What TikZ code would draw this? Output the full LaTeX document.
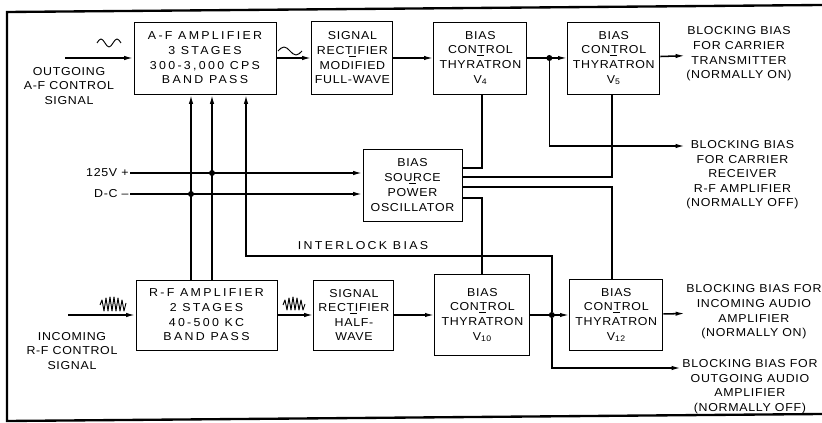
\documentclass[tikz,border=0pt]{standalone}
\usepackage{fontspec}
\setmainfont{Liberation Sans}[FakeStretch=1.08, LetterSpace=6]
\usetikzlibrary{arrows.meta, positioning, calc}

\newcommand\blkfont{\fontsize{9.8}{12.5}\selectfont}
\newcommand\widefont{\blkfont\addfontfeature{LetterSpace=20}}
% short separator bar under a word
\newcommand\sepunder[1]{\leavevmode\setbox0\hbox{#1}\rlap{\hbox to \wd0{\hss\rule[-2pt]{6pt}{0.6pt}\hss}}\box0}

\begin{document}
\begin{tikzpicture}[
    x=0.3mm, y=-0.3mm,
    blk/.style={draw=black, line width=0.8pt, align=center, font=\blkfont, inner sep=0pt},
    txt/.style={align=center, font=\blkfont, inner sep=1pt},
    arr/.style={-{Latex[length=2.8mm, width=1.3mm]}, line width=1.3pt},
    wire/.style={line width=1.3pt},
    junc/.style={circle, fill=black, inner sep=0pt, minimum size=1.8mm},
    wave/.style={line width=0.8pt, line join=round},
    edgeline/.style={line width=2pt},
]
\useasboundingbox (0,0) rectangle (822,423);

% Outer frame
\draw[edgeline] (822,5) -- (7,12) -- (7,421) -- (822,414);

% Top row
\node[blk, font=\widefont, minimum width=42.6mm, minimum height=21.6mm] (af) at (205,58)
    {A-F AMPLIFIER\\3 STAGES\\300-3,000 CPS\\BAND PASS};
\node[blk, minimum width=24.3mm, minimum height=21.9mm, right=10.5mm of af] (rectA)
    {SIGNAL\\\sepunder{RECTIFIER}\\MODIFIED\\FULL-WAVE};
\node[blk, minimum width=27.9mm, minimum height=21.6mm, right=12mm of rectA] (v4)
    {BIAS\\\sepunder{CONTROL}\\THYRATRON\\V\textsubscript{4}};
\node[blk, minimum width=27.6mm, minimum height=21.6mm, right=12mm of v4] (v5)
    {BIAS\\\sepunder{CONTROL}\\THYRATRON\\V\textsubscript{5}};

% Bias source
\node[blk, minimum width=29.7mm, minimum height=21.6mm] (bias) at (412.5,185)
    {BIAS\\\sepunder{SOURCE}\\[1pt]POWER\\OSCILLATOR};

% Bottom row
\node[blk, font=\widefont, minimum width=42.3mm, minimum height=21mm] (rf) at (206.5,315)
    {R-F AMPLIFIER\\2 STAGES\\40-500 KC\\BAND PASS};
\node[blk, minimum width=24mm, minimum height=21mm, right=10.8mm of rf] (rectB)
    {SIGNAL\\\sepunder{RECTIFIER}\\HALF-\\WAVE};
\node[blk, minimum width=28.5mm, minimum height=24.3mm, right=12mm of rectB] (v10)
    {BIAS\\\sepunder{CONTROL}\\THYRATRON\\V\textsubscript{10}};
\node[blk, minimum width=27.9mm, minimum height=21.3mm, right=11.7mm of v10] (v12)
    {BIAS\\\sepunder{CONTROL}\\THYRATRON\\V\textsubscript{12}};

% Inputs and supply
\node[txt] (in1) at (69,86) {OUTGOING\\A-F CONTROL\\SIGNAL};
\node[txt] (in2) at (72,351) {INCOMING\\R-F CONTROL\\SIGNAL};
\node[txt, anchor=east] (vplus) at (130,173) {125V +};
\node[txt, anchor=east] (vminus) at (130,194) {D-C --};
\coordinate (src1) at (65,58);
\coordinate (src2) at (68,315);

% Outputs
\node[txt, anchor=west] (out1) at (685,54)
    {BLOCKING BIAS\\FOR CARRIER\\TRANSMITTER\\(NORMALLY ON)};
\node[txt, anchor=north west] (out2) at (685,139)
    {BLOCKING BIAS\\FOR CARRIER\\RECEIVER\\R-F AMPLIFIER\\(NORMALLY OFF)};
\node[txt, anchor=west] (out3) at (685,312)
    {BLOCKING BIAS FOR\\INCOMING AUDIO\\AMPLIFIER\\(NORMALLY ON)};
\node[txt, anchor=north west] (out4) at (681,358)
    {BLOCKING BIAS FOR\\OUTGOING AUDIO\\AMPLIFIER\\(NORMALLY OFF)};
\coordinate (p2) at (685,146);
\coordinate (p4) at (681,368);

% Columns and rows for the wiring
\coordinate (tapA) at (191,0);
\coordinate (tapB) at (212,0);
\coordinate (tapC) at (246,0);
\coordinate (colL) at (482,0);
\coordinate (colR) at (612,0);
\coordinate (ilkrow) at (0,256);

% Junctions
\node[junc] (j4) at ($(v4.east)!0.55!(v5.west)$) {};
\node[junc] (j10) at ($(v10.east)!0.55!(v12.west)$) {};
\node[junc] (jp) at (vplus -| tapB) {};
\node[junc] (jm) at (vminus -| tapA) {};

% Signal chain, top
\draw[arr] (src1) -- (af);
\draw[arr] (af) -- (rectA);
\draw[arr] (rectA) -- (v4);
\draw[arr] (v4) -- (v5);
\draw[arr] (v5) -- (out1);
\draw[arr] (j4) |- (p2);

% Signal chain, bottom
\draw[arr] (src2) -- (rf);
\draw[arr] (rf) -- (rectB);
\draw[arr] (rectB) -- (v10);
\draw[arr] (v10) -- (v12);
\draw[arr] (v12) -- (out3);
\draw[arr] (j10) |- (p4);

% D-C supply
\draw[arr] (vplus.east) -- (vplus.east -| bias.west);
\draw[arr] (vminus.east) -- (vminus.east -| bias.west);
\draw[arr] (rf.north -| tapA) -- (af.south -| tapA);
\draw[arr] (rf.north -| tapB) -- (af.south -| tapB);

% Bias source to thyratrons
\draw[wire] ([yshift=5.1mm]bias.east) -| (v4.south -| colL);
\draw[wire] ([yshift=2.4mm]bias.east) -| (v5.south -| colR);
\draw[wire] ([yshift=-0.6mm]bias.east) -| (v12.north -| colR);
\draw[wire] ([yshift=-3.9mm]bias.east) -| (v10.north -| colL);

% Interlock
\draw[arr] (j10) -- (j10 |- ilkrow) -| (af.south -| tapC);
\node[txt, font=\widefont] (ilk) at (363,246) {INTERLOCK BIAS};

% Wave symbols
\draw[wave] (97,43) sin (101,39) cos (105,43) sin (109,47) cos (113,43) sin (117,39) cos (121,43);
\draw[wave] (278,51) sin (284,47) cos (290,51) sin (296,55) cos (302,51);
\draw[wave] (100,305) -- (102,300) -- (104,311) -- (106,298) -- (108,311) -- (110,297)
    -- (112,311) -- (114,297) -- (116,311) -- (118,298) -- (120,311) -- (122,300)
    -- (124,311) -- (126,303);
\draw[wave] (283,305) -- (285,300) -- (287,310) -- (289,298) -- (291,310) -- (293,297)
    -- (295,310) -- (297,298) -- (299,310) -- (301,300) -- (303,310) -- (305,304);

\end{tikzpicture}
\end{document}
